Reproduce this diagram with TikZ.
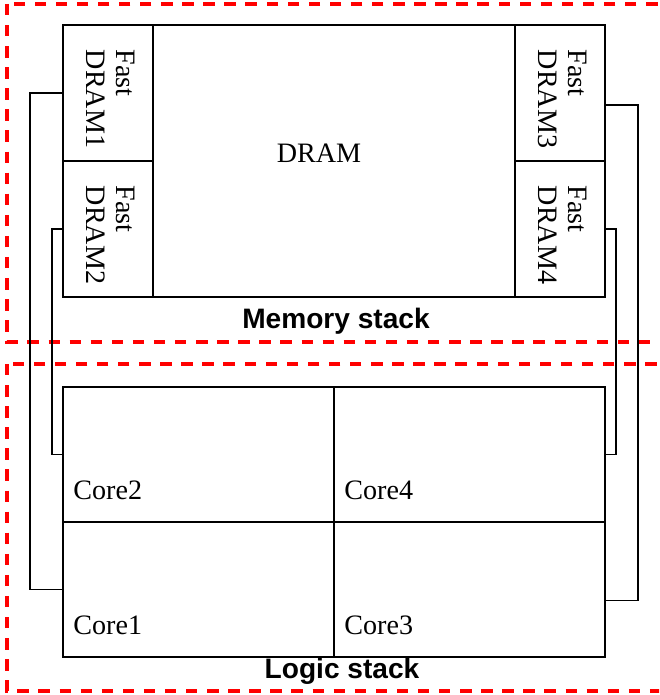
\documentclass[tikz,border=0pt]{standalone}
\usepackage{fontspec}
\setmainfont{Liberation Serif}
\setsansfont{Liberation Sans}
\usetikzlibrary{positioning}

\begin{document}
\begin{tikzpicture}[x=0.02cm, y=-0.02cm,
    unit/.style={draw, line width=1.5pt, rectangle, inner sep=0pt, outer sep=0pt, anchor=north west},
    fastbox/.style={unit, minimum width=1.8cm, minimum height=2.72cm},
    corebox/.style={unit, minimum width=5.42cm, minimum height=2.7cm},
    wire/.style={line width=0.7pt},
    stackframe/.style={red, line width=1.75pt, dash pattern=on 6.5pt off 5.5pt},
    txt/.style={font=\fontsize{16}{17}\selectfont},
    stacklabel/.style={font=\fontsize{16}{17}\sffamily\bfseries}]
    \useasboundingbox (0,0) rectangle (659,695);
    \clip (0,0) rectangle (659,695);

    % Dashed frames of the two stacks
    \draw[stackframe] (7,4) rectangle (690,342);
    \draw[stackframe] (7,364) rectangle (690,691);

    % Memory stack
    \node[fastbox] (d1) at (63,25) {};
    \node[fastbox] (d2) at (63,161) {};
    \node[unit, minimum width=7.24cm, minimum height=5.44cm] (dram) at (153,25) {};
    \node[fastbox] (d3) at (515,25) {};
    \node[fastbox] (d4) at (515,161) {};
    \node[txt] (dramtxt) at (319,153) {DRAM};
    \node[txt, rotate=-90, align=left] (d1txt) at ([xshift=0.05cm, yshift=-0.12cm]d1.center) {Fast\\DRAM1};
    \node[txt, rotate=-90, align=left] (d2txt) at ([xshift=0.05cm, yshift=-0.12cm]d2.center) {Fast\\DRAM2};
    \node[txt, rotate=-90, align=left] (d3txt) at ([xshift=0.05cm, yshift=-0.12cm]d3.center) {Fast\\DRAM3};
    \node[txt, rotate=-90, align=left] (d4txt) at ([xshift=0.05cm, yshift=-0.12cm]d4.center) {Fast\\DRAM4};
    \node[stacklabel] (memlabel) at (336,321) {Memory stack};

    % Logic stack
    \node[corebox] (c2) at (63,387) {};
    \node[corebox] (c4) at (334,387) {};
    \node[corebox] (c1) at (63,522) {};
    \node[corebox] (c3) at (334,522) {};
    \foreach \c in {1,2,3,4}
        \node[txt, inner sep=0pt, anchor=base west] (c\c txt) at ([xshift=0.2cm, yshift=0.44cm]c\c.south west) {Core\c};
    \node[stacklabel] (logiclabel) at (342,671) {Logic stack};

    % Links between the fast DRAMs and the cores
    \draw[wire] (d1.west) -- ++(-33,0) |- (c1.west);
    \draw[wire] (d2.west) -- ++(-11,0) |- (c2.west);
    \draw[wire] ([yshift=-0.24cm]d3.east) -- ++(33,0) |- ([yshift=-0.22cm]c3.east);
    \draw[wire] (d4.east) -- ++(11,0) |- (c4.east);
\end{tikzpicture}
\end{document}
